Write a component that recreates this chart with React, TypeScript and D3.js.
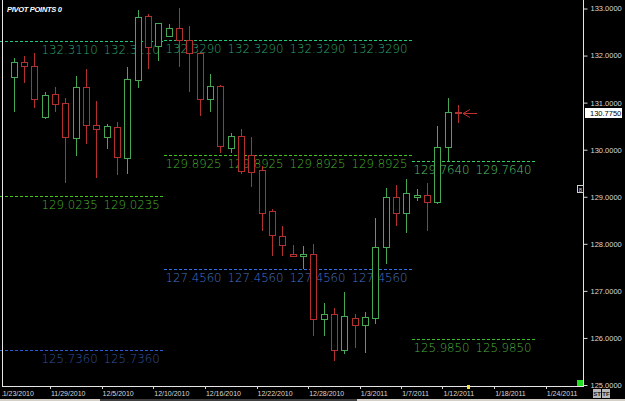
import React, { useEffect, useRef } from 'react';
import * as d3 from 'd3';

// slots on the time axis (Sun-Fri sessions, Saturdays skipped)
const leadSlots = ['11/23/2010'];
const candleDates = [
  '11/24/2010', '11/25/2010', '11/26/2010', '11/28/2010', '11/29/2010', '11/30/2010',
  '12/1/2010', '12/2/2010', '12/3/2010', '12/5/2010', '12/6/2010', '12/7/2010', '12/8/2010',
  '12/9/2010', '12/10/2010', '12/12/2010', '12/13/2010', '12/14/2010', '12/15/2010',
  '12/16/2010', '12/17/2010', '12/19/2010', '12/20/2010', '12/21/2010', '12/22/2010',
  '12/23/2010', '12/24/2010', '12/26/2010', '12/27/2010', '12/28/2010', '12/29/2010',
  '12/30/2010', '12/31/2010', '1/2/2011', '1/3/2011', '1/4/2011', '1/5/2011', '1/6/2011',
  '1/7/2011', '1/9/2011', '1/10/2011', '1/11/2011', '1/12/2011', '1/13/2011',
];
const futureSlots = [
  '1/14/2011', '1/16/2011', '1/17/2011', '1/18/2011', '1/19/2011', '1/20/2011',
  '1/21/2011', '1/23/2011', '1/24/2011', '1/25/2011', '1/26/2011', '1/27/2011',
];

const opens = [
  131.538, 131.857, 131.778, 130.688, 131.177, 130.986, 130.242, 131.326, 130.524, 130.276,
  130.476, 129.817, 131.481, 132.841, 132.188, 132.422, 132.592, 132.331, 132.048, 131.071,
  131.353, 130.029, 130.291, 129.887, 129.568, 128.703, 128.166, 127.783, 127.741, 127.777,
  126.396, 126.502, 125.743, 126.417, 126.275, 126.417, 127.917, 128.988, 128.648, 128.988,
  129.037, 128.873, 130.042, 130.794,
];
const highs = [
  131.976, 132.012, 132.082, 131.253, 131.353, 131.119, 131.587, 131.729, 131.056, 130.561,
  130.616, 131.785, 132.983, 132.898, 132.72, 132.698, 133.038, 132.649, 132.076, 131.623,
  131.396, 130.382, 130.454, 130.291, 129.674, 128.761, 128.4, 127.996, 127.974, 128.011,
  126.77, 126.651, 126.997, 126.536, 126.572, 128.576, 129.201, 129.264, 129.392, 129.192,
  129.32, 130.524, 131.119, 130.971,
];
const lows = [
  130.828, 131.444, 130.901, 130.673, 130.828, 129.32, 129.887, 130.148, 129.413, 130.029,
  129.483, 129.498, 131.326, 131.729, 131.906, 132.422, 131.778, 131.253, 130.737, 130.828,
  129.957, 129.957, 129.498, 129.228, 128.293, 127.762, 127.762, 127.741, 127.486, 126.062,
  126.062, 125.531, 125.673, 125.813, 125.707, 126.311, 127.6, 128.4, 128.257, 128.931,
  128.293, 128.861, 129.781, 130.595,
];
const closes = [
  131.857, 131.763, 131.071, 131.162, 130.964, 130.255, 131.326, 130.524, 130.433, 130.503,
  129.83, 131.502, 132.826, 132.188, 132.686, 132.592, 132.331, 132.048, 131.071, 131.353,
  130.085, 130.291, 129.55, 129.532, 128.648, 128.187, 127.974, 127.741, 127.783, 126.396,
  126.508, 125.743, 126.466, 126.26, 126.451, 127.926, 128.988, 128.648, 129.073, 129.037,
  128.895, 130.051, 130.794, 130.775,
];

const tickDates = [
  '11/23/2010', '11/29/2010', '12/5/2010', '12/10/2010', '12/16/2010', '12/22/2010',
  '12/28/2010', '1/3/2011', '1/7/2011', '1/12/2011', '1/18/2011', '1/24/2011',
];

// pivot levels
const pivotValues = [132.311, 129.0235, 125.736, 132.329, 129.8925, 127.456, 129.764, 125.985];
const pivotFrom = ['11/23/2010', '11/23/2010', '11/23/2010', '12/12/2010', '12/12/2010', '12/12/2010', '1/9/2011', '1/9/2011'];
const pivotTo = ['12/12/2010', '12/12/2010', '12/12/2010', '1/9/2011', '1/9/2011', '1/9/2011', '1/23/2011', '1/23/2011'];
const pivotLabelDates = [
  ['11/28/2010', '12/5/2010'],
  ['11/28/2010', '12/5/2010'],
  ['11/28/2010', '12/5/2010'],
  ['12/12/2010', '12/19/2010', '12/26/2010', '1/2/2011'],
  ['12/12/2010', '12/19/2010', '12/26/2010', '1/2/2011'],
  ['12/12/2010', '12/19/2010', '12/26/2010', '1/2/2011'],
  ['1/9/2011', '1/16/2011'],
  ['1/9/2011', '1/16/2011'],
];
const pivotLineColors = ['#1fc878', '#3fc81a', '#2a5cd8', '#1fc878', '#3fc81a', '#3070e8', '#34d060', '#38c02a'];
const pivotTextColors = ['#2fa070', '#48ae30', '#31539a', '#2fa070', '#48ae30', '#4474c4', '#5cc070', '#4caa40'];

const lastPrice = 130.775;

const App = () => {
  const svgRef = useRef<SVGSVGElement>(null);

  useEffect(() => {
    const svg = d3.select(svgRef.current);
    svg.selectAll('*').remove();

    const width = 625;
    const height = 401;
    const plotLeft = 2;
    const plotRight = 583;
    const plotBottom = 386;

    const slots = [...leadSlots, ...candleDates, ...futureSlots];
    const step = 10.33;
    const x = d3.scaleBand<string>().domain(slots).range([-1.7, -1.7 + slots.length * step]).padding(0);
    const y = d3.scaleLinear().domain([125, 133]).range([385, 8.5]);
    const cx = (d: string) => (x(d) as number) + x.bandwidth() / 2;
    const fmt = d3.format('.4f');

    svg.append('rect').attr('width', width).attr('height', height).attr('fill', '#000');

    const defs = svg.append('defs');
    defs.append('clipPath').attr('id', 'plot')
      .append('rect').attr('x', 0).attr('y', 0).attr('width', plotRight).attr('height', plotBottom);
    defs.append('clipPath').attr('id', 'xlab')
      .append('rect').attr('x', plotLeft).attr('y', plotBottom).attr('width', plotRight).attr('height', 14);

    const plot = svg.append('g').attr('clip-path', 'url(#plot)');

    // pivot lines + labels
    pivotValues.forEach((v, i) => {
      const yy = Math.round(y(v)) + 0.5;
      const x0 = Math.max(0, x(pivotFrom[i]) as number);
      const x1 = x(pivotTo[i]) as number;
      plot.append('line')
        .attr('x1', x0).attr('x2', x1).attr('y1', yy).attr('y2', yy)
        .attr('stroke', pivotLineColors[i]).attr('stroke-width', 1)
        .attr('stroke-dasharray', '3,2').attr('shape-rendering', 'crispEdges');
      pivotLabelDates[i].forEach((d) => {
        plot.append('text')
          .attr('x', (x(d) as number) + 2)
          .attr('y', yy + 12)
          .attr('fill', pivotTextColors[i])
          .attr('font-family', 'DejaVu Sans')
          .attr('font-weight', 200)
          .attr('font-size', 13)
          .attr('textLength', 56)
          .attr('lengthAdjust', 'spacingAndGlyphs')
          .text(fmt(v));
      });
    });

    // candles
    const candles = candleDates.map((d, i) => ({ d, o: opens[i], h: highs[i], l: lows[i], c: closes[i] }));
    const g = plot.append('g').attr('shape-rendering', 'crispEdges');
    const col = (k: { o: number; c: number }) => (k.c >= k.o ? '#46a852' : '#b3302e');

    g.selectAll('line.wick')
      .data(candles)
      .enter()
      .append('line')
      .attr('class', 'wick')
      .attr('x1', (k) => Math.round(cx(k.d)) + 0.5)
      .attr('x2', (k) => Math.round(cx(k.d)) + 0.5)
      .attr('y1', (k) => Math.round(y(k.h)) + 0.5)
      .attr('y2', (k) => Math.round(y(k.l)) + 0.5)
      .attr('stroke', col);

    g.selectAll('rect.body')
      .data(candles)
      .enter()
      .append('rect')
      .attr('class', 'body')
      .attr('x', (k) => Math.round(cx(k.d)) - 3 + 0.5)
      .attr('width', 6)
      .attr('y', (k) => Math.round(y(Math.max(k.o, k.c))) + 0.5)
      .attr('height', (k) => Math.max(1, Math.round(Math.abs(y(k.o) - y(k.c)))))
      .attr('fill', '#000')
      .attr('stroke', col);

    // arrow at last bar
    const ax = Math.round(cx(candleDates[candleDates.length - 1])) + 5;
    const ay = Math.round(y(lastPrice)) + 0.5;
    const arrow = plot.append('g').attr('stroke', '#c0302e').attr('fill', 'none');
    arrow.append('line').attr('x1', ax).attr('x2', ax + 14).attr('y1', ay).attr('y2', ay);
    arrow.append('path').attr('d', `M${ax + 7},${ay - 4}L${ax},${ay}L${ax + 7},${ay + 4}`);

    // frame
    const frame = svg.append('g').attr('stroke', '#e6e6e6').attr('shape-rendering', 'crispEdges');
    frame.append('line').attr('x1', plotLeft + 0.5).attr('x2', plotLeft + 0.5).attr('y1', 0).attr('y2', plotBottom + 0.5);
    frame.append('line').attr('x1', plotRight + 0.5).attr('x2', plotRight + 0.5).attr('y1', 0).attr('y2', plotBottom + 0.5);
    frame.append('line').attr('x1', plotLeft).attr('x2', plotRight + 1).attr('y1', plotBottom + 0.5).attr('y2', plotBottom + 0.5);

    // right price axis
    const yAxis = svg.append('g')
      .attr('transform', `translate(${plotRight + 0.5},0)`)
      .call(d3.axisRight(y).tickValues(y.ticks(8)).tickFormat((v) => fmt(v as number)).tickSize(4).tickSizeOuter(0));
    yAxis.select('.domain').remove();
    yAxis.selectAll('line').attr('stroke', '#d8d8d8');
    yAxis.selectAll('text')
      .attr('fill', '#d8d8d8')
      .attr('font-family', 'Liberation Sans, Arial, sans-serif')
      .attr('font-size', 7.5)
      .attr('x', 7);

    // last price box
    svg.append('rect')
      .attr('x', plotRight + 2).attr('y', Math.round(y(lastPrice)) - 5)
      .attr('width', 37).attr('height', 10).attr('fill', '#fff');
    svg.append('text')
      .attr('x', plotRight + 7).attr('y', Math.round(y(lastPrice)) + 3)
      .attr('fill', '#000')
      .attr('font-family', 'Liberation Sans, Arial, sans-serif')
      .attr('font-size', 7.5)
      .text(fmt(lastPrice));

    // bottom time axis
    const xAxis = svg.append('g');
    tickDates.forEach((d) => {
      const tx = Math.round(x(d) as number) + 0.5;
      xAxis.append('line')
        .attr('x1', tx).attr('x2', tx).attr('y1', plotBottom).attr('y2', plotBottom + 3)
        .attr('stroke', '#d8d8d8');
    });
    xAxis.append('g').attr('clip-path', 'url(#xlab)')
      .selectAll('text')
      .data(tickDates)
      .enter()
      .append('text')
      .attr('x', (d) => (x(d) as number) + 1)
      .attr('y', plotBottom + 9.5)
      .attr('fill', '#d8d8d8')
      .attr('font-family', 'Liberation Sans, Arial, sans-serif')
      .attr('font-size', 7)
      .text((d) => d);

    // marker for the next bar on the time axis
    svg.append('rect')
      .attr('x', Math.round(cx(futureSlots[0])) - 1).attr('y', plotBottom - 1)
      .attr('width', 3).attr('height', 4).attr('fill', '#f0e040');

    // title
    svg.append('text')
      .attr('x', 7).attr('y', 11.5)
      .attr('fill', '#fff')
      .attr('font-family', 'Liberation Sans, Arial, sans-serif')
      .attr('font-weight', 'bold')
      .attr('font-style', 'italic')
      .attr('font-size', 7.5)
      .attr('textLength', 55)
      .text('PIVOT POINTS 0');

    // small widgets at the edge
    svg.append('rect').attr('x', 577).attr('y', 380).attr('width', 6).attr('height', 6).attr('fill', '#22dd22');
    svg.append('rect').attr('x', 577.5).attr('y', 185.5).attr('width', 6).attr('height', 7)
      .attr('fill', '#000').attr('stroke', '#cfcfcf');
    svg.append('text').attr('x', 580.5).attr('y', 191.5).attr('text-anchor', 'middle')
      .attr('fill', '#cfcfcf').attr('font-size', 6).attr('font-family', 'Liberation Sans, Arial, sans-serif').text('8');
    ['ST', 'TF'].forEach((t, i) => {
      svg.append('rect').attr('x', 593 + i * 9).attr('y', 389).attr('width', 8).attr('height', 9).attr('fill', '#b8b8b8');
      svg.append('text').attr('x', 597 + i * 9).attr('y', 396).attr('text-anchor', 'middle')
        .attr('fill', '#202020').attr('font-size', 6).attr('font-weight', 'bold')
        .attr('font-family', 'Liberation Sans, Arial, sans-serif').text(t);
    });

    // window bottom strip
    svg.append('rect').attr('x', 0).attr('y', 399).attr('width', width).attr('height', 2).attr('fill', '#d4d0c8');
    svg.append('rect').attr('x', 100).attr('y', 399).attr('width', 257).attr('height', 2).attr('fill', '#404040');
  }, []);

  return (
    <svg
      ref={svgRef}
      width={625}
      height={401}
      style={{ position: 'absolute', left: 0, top: 0, display: 'block' }}
    ></svg>
  );
};

export default App;
